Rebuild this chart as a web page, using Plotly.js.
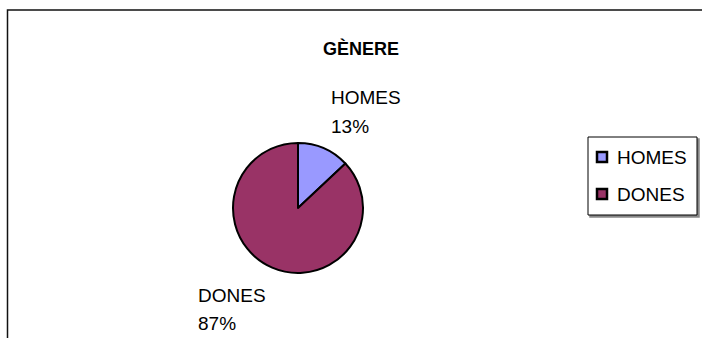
<!DOCTYPE html>
<html>
<head>
<meta charset="utf-8">
<script src="https://cdn.plot.ly/plotly-3.0.1.min.js"></script>
<style>html,body{margin:0;padding:0;background:#fff;}#chart{width:702px;height:338px;}</style>
</head>
<body>
<div id="chart"></div>
<script>
// Data
const chartTitle = 'GÈNERE';
const categories = ['HOMES', 'DONES'];
const values = [13, 87];
const sliceColors = ['#9999FF', '#993366'];

const W = 702, H = 338;
const px = x => x / W;
const py = y => 1 - y / H;
const FONT = '"Liberation Sans", Arial, sans-serif';

const total = values.reduce((a, b) => a + b, 0);
const pct = values.map(v => Math.round(v / total * 100) + '%');

// pie geometry (center 298,208 radius 65)
const cx = 298, cy = 208, r = 65;

const trace = {
  type: 'pie',
  labels: categories,
  values: values,
  sort: false,
  direction: 'clockwise',
  rotation: 0,
  textinfo: 'none',
  hoverinfo: 'label+percent',
  marker: {colors: sliceColors, line: {color: '#000', width: 2}},
  domain: {x: [px(cx - r), px(cx + r)], y: [py(cy + r), py(cy - r)]},
  showlegend: false
};

// label positions (name line, percent line)
const labelPos = [
  {x: 329, yName: 98, yPct: 126},
  {x: 196, yName: 295, yPct: 323}
];
const annotations = [];
categories.forEach((c, i) => {
  annotations.push({xref: 'paper', yref: 'paper', x: px(labelPos[i].x), y: py(labelPos[i].yName),
    xanchor: 'left', yanchor: 'middle', text: c, showarrow: false,
    font: {family: FONT, size: 19, color: '#000'}});
  annotations.push({xref: 'paper', yref: 'paper', x: px(labelPos[i].x), y: py(labelPos[i].yPct),
    xanchor: 'left', yanchor: 'middle', text: pct[i], showarrow: false,
    font: {family: FONT, size: 19, color: '#000'}});
});

// custom legend
const lg = {x0: 588, y0: 137, x1: 697, y1: 215};
const legendRows = [157, 194];
const shapes = [
  // outer frame
  {type: 'rect', xref: 'paper', yref: 'paper', x0: px(7.5), x1: px(712), y0: py(10), y1: py(345),
   line: {color: '#111', width: 1.5}, fillcolor: 'rgba(0,0,0,0)'},
  // legend shadow
  {type: 'rect', xref: 'paper', yref: 'paper', x0: px(lg.x0 + 2), x1: px(lg.x1 + 2), y0: py(lg.y0 + 2), y1: py(lg.y1 + 2),
   line: {color: '#888', width: 1.5}, fillcolor: '#888'},
  // legend box
  {type: 'rect', xref: 'paper', yref: 'paper', x0: px(lg.x0), x1: px(lg.x1), y0: py(lg.y0), y1: py(lg.y1),
   line: {color: '#000', width: 1}, fillcolor: '#fff'}
];
categories.forEach((c, i) => {
  const yc = legendRows[i];
  shapes.push({type: 'rect', xref: 'paper', yref: 'paper', x0: px(597), x1: px(607), y0: py(yc + 5), y1: py(yc - 5),
    line: {color: '#000', width: 2.5}, fillcolor: sliceColors[i]});
  annotations.push({xref: 'paper', yref: 'paper', x: px(615), y: py(yc), xanchor: 'left', yanchor: 'middle',
    text: c, showarrow: false, font: {family: FONT, size: 19, color: '#000'}});
});

const layout = {
  width: W, height: H,
  margin: {l: 0, r: 0, t: 0, b: 0},
  paper_bgcolor: '#fff',
  plot_bgcolor: '#fff',
  showlegend: false,
  title: {text: '<b>' + chartTitle + '</b>', x: px(361), xanchor: 'center', y: py(49), yanchor: 'middle',
          xref: 'paper', yref: 'container', font: {family: FONT, size: 18, color: '#000'}},
  shapes: shapes,
  annotations: annotations
};

Plotly.newPlot('chart', [trace], layout, {displayModeBar: false, staticPlot: true});
</script>
</body>
</html>
